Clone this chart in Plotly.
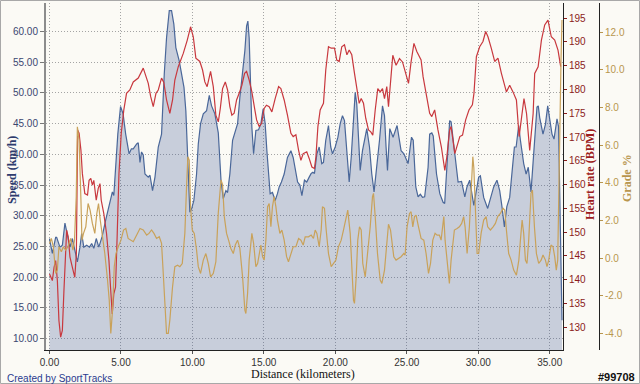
import plotly.graph_objects as go

# ---------------- data ----------------
speed_dist = [0.0, 0.2, 0.43, 0.5, 0.73, 0.9, 1.08, 1.25, 1.43, 1.6, 1.77, 1.95, 2.13, 2.25, 2.4, 2.6, 2.8, 2.95,
              3.1, 3.27, 3.45, 3.68, 3.93, 4.16, 4.4, 4.5, 4.6, 4.78, 4.97, 5.15, 5.33, 5.57, 5.73, 5.86, 6.1, 6.21,
              6.33, 6.44, 6.56, 6.68, 6.91, 7.03, 7.21, 7.38, 7.61, 7.84, 8.03, 8.19, 8.38, 8.54, 8.7, 8.84, 9.08,
              9.24, 9.41, 9.54, 9.64, 9.73, 9.82, 9.94, 10.1, 10.29, 10.41, 10.57, 10.76, 10.99, 11.18, 11.34, 11.57,
              11.81, 12.0, 12.16, 12.34, 12.46, 12.62, 12.81, 13.0, 13.16, 13.32, 13.51, 13.67, 13.79, 13.88, 13.97,
              14.07, 14.16, 14.28, 14.44, 14.63, 14.79, 14.95, 15.09, 15.21, 15.32, 15.44, 15.6, 15.79, 15.95, 16.07,
              16.23, 16.42, 16.65, 16.89, 17.05, 17.24, 17.36, 17.52, 17.66, 17.84, 18.0, 18.17, 18.31, 18.43, 18.54,
              18.71, 18.87, 19.05, 19.17, 19.33, 19.52, 19.68, 19.8, 19.99, 20.18, 20.34, 20.5, 20.64, 20.81, 20.97,
              21.11, 21.2, 21.39, 21.5, 21.62, 21.74, 21.9, 22.09, 22.2, 22.39, 22.55, 22.71, 22.9, 23.09, 23.3,
              23.44, 23.55, 23.65, 23.81, 24.04, 24.32, 24.6, 24.8, 25.09, 25.33, 25.45, 25.63, 25.79, 25.95, 26.1,
              26.25, 26.49, 26.6, 26.75, 26.85, 27.08, 27.31, 27.54, 27.65, 27.77, 28.0, 28.1, 28.29, 28.47, 28.59,
              28.83, 29.06, 29.21, 29.4, 29.69, 30.03, 30.15, 30.38, 30.66, 30.85, 31.08, 31.31, 31.5, 31.66, 31.83,
              32.0, 32.2, 32.4, 32.53, 32.65, 32.83, 32.95, 33.18, 33.35, 33.5, 33.69, 33.88, 34.11, 34.2, 34.3,
              34.53, 34.7, 34.86, 35.0, 35.16, 35.3, 35.42, 35.51, 35.62, 35.78, 35.86]
speed_kmh = [26.3, 23.9, 26.5, 26.5, 24.9, 25.2, 28.8, 27.1, 24.9, 26.3, 24.7, 22.5, 24.9, 27.1, 24.9, 25.2, 24.9, 25.5,
             24.7, 26.3, 24.9, 26.6, 29.3, 31.4, 33.9, 33.3, 36.8, 43.3, 47.8, 46.6, 43.3, 40.1, 40.9, 40.9, 41.7, 41.9,
             38.7, 40.4, 39.9, 36.8, 36.3, 36.6, 34.1, 36.3, 41.2, 43.3, 53.1, 59.0, 63.4, 63.4, 61.2, 57.4, 55.2,
             53.1, 50.9, 47.1, 40.1, 33.6, 30.6, 31.1, 32.5, 36.8, 41.7, 45.0, 46.6, 47.1, 49.6, 47.9, 46.6,
             43.5, 35.8, 32.8, 34.1, 33.8, 36.8, 42.3, 43.9, 45.0, 49.3, 53.1, 56.9, 60.9, 61.7, 59.0,
             50.9, 44.4, 40.1, 43.9, 44.0, 45.0, 47.4, 45.0, 40.6, 36.3, 33.6, 33.8, 32.5, 33.6, 34.7,
             35.5, 36.8, 39.5, 40.6, 39.5, 37.4, 35.5, 35.0, 33.3, 35.8, 35.5, 36.3, 36.9, 37.1, 36.9,
             40.1, 41.2, 38.5, 38.7, 42.3, 44.7, 41.2, 40.1, 41.2, 42.8, 45.0, 46.3, 45.5, 40.6, 35.5,
             39.5, 43.3, 50.1, 48.2, 42.8, 37.4, 40.6, 43.3, 44.2, 41.2, 36.8, 33.9, 37.9, 42.3, 47.9,
             46.3, 41.2, 37.4, 44.2, 42.8, 44.7, 40.6, 40.1, 38.5, 42.8, 42.3, 34.7, 33.1, 33.5, 33.0,
             33.1, 37.9, 43.3, 43.5, 43.0, 36.8, 33.6, 32.2, 32.0, 36.8, 45.5, 45.3, 41.2, 37.4, 35.5,
             35.6, 33.1, 34.7, 35.8, 31.7, 36.3, 36.5, 33.0, 31.2, 33.0, 34.7, 35.8, 34.1, 31.5, 28.2,
             31.5, 33.0, 38.0, 41.2, 41.2, 44.7, 42.3, 38.5, 36.8, 37.9, 33.9, 40.1, 47.7, 47.9, 46.0,
             43.3, 44.9, 47.9, 46.0, 43.3, 42.5, 44.0, 45.8, 44.5, 20.5, 13.0]

hr_dist = [0.0, 0.2, 0.32, 0.43, 0.55, 0.66, 0.78, 0.9, 1.01, 1.13, 1.2, 1.31, 1.43, 1.6, 1.77, 1.88, 1.97, 2.07, 2.2,
           2.3, 2.47, 2.66, 2.77, 2.89, 3.0, 3.1, 3.27, 3.41, 3.53, 3.62, 3.8, 3.99, 4.16, 4.27, 4.39, 4.5, 4.62,
           4.74, 4.86, 5.02, 5.2, 5.39, 5.62, 5.86, 6.21, 6.56, 6.75, 6.91, 7.08, 7.26, 7.45, 7.61, 7.84, 8.0, 8.19,
           8.42, 8.61, 8.77, 9.01, 9.36, 9.64, 9.87, 10.06, 10.24, 10.52, 10.71, 10.87, 11.03, 11.27, 11.46, 11.64,
           11.81, 11.95, 12.11, 12.3, 12.46, 12.62, 12.76, 12.92, 13.09, 13.27, 13.46, 13.65, 13.79, 13.97, 14.16,
           14.33, 14.49, 14.67, 14.84, 15.02, 15.18, 15.37, 15.56, 15.79, 16.03, 16.19, 16.42, 16.65, 16.89, 17.05,
           17.24, 17.43, 17.59, 17.75, 18.0, 18.17, 18.36, 18.54, 18.64, 18.78, 18.94, 19.17, 19.33, 19.52, 19.71,
           19.94, 20.1, 20.27, 20.45, 20.64, 20.81, 20.97, 21.15, 21.34, 21.5, 21.67, 21.81, 21.97, 22.13, 22.32,
           22.48, 22.62, 22.79, 22.97, 23.14, 23.3, 23.44, 23.6, 23.72, 23.85, 24.02, 24.25, 24.49, 24.7, 24.95,
           25.12, 25.3, 25.5, 25.7, 26.0, 26.14, 26.37, 26.6, 26.75, 26.95, 27.18, 27.42, 27.66, 27.8, 28.0, 28.1,
           28.36, 28.5, 28.71, 28.9, 29.12, 29.35, 29.59, 29.7, 29.87, 30.1, 30.33, 30.52, 30.68, 30.91, 31.15,
           31.38, 31.62, 31.97, 32.2, 32.43, 32.67, 32.86, 33.02, 33.2, 33.38, 33.6, 33.84, 33.95, 34.19, 34.42,
           34.65, 34.88, 35.11, 35.35, 35.58, 35.77]
hr_bpm = [141.2, 139.8, 142.6, 144.0, 139.8, 131.4, 127.9, 129.3, 137.7, 148.3, 150.4, 149.0, 144.8, 142.6, 140.5,
          145.5, 171.5, 170.8, 167.2, 162.3, 158.1, 157.8, 160.9, 161.3, 159.9, 160.9, 156.7, 159.2, 160.2, 156.7,
          153.9, 149.7, 144.0, 138.4, 132.8, 137.0, 138.4, 149.7, 162.3, 170.8, 175.7, 179.2, 179.9, 181.6, 182.4,
          184.5, 182.7, 181.3, 178.5, 176.4, 179.2, 179.9, 182.4, 181.5, 177.8, 175.0, 177.8, 182.0, 184.8, 187.6,
          190.4, 193.2, 191.1, 186.6, 185.9, 184.1, 181.6, 180.6, 183.8, 180.6, 174.6, 173.2, 176.0, 180.2, 181.6,
          179.9, 176.4, 174.6, 175.0, 177.8, 179.2, 180.9, 183.4, 183.8, 182.0, 179.5, 176.4, 173.6, 172.2, 172.9,
          176.0, 176.7, 176.4, 175.3, 178.1, 180.6, 180.2, 177.8, 174.6, 170.8, 170.1, 170.5, 167.2, 165.1, 166.5,
          166.9, 165.5, 163.7, 163.4, 165.8, 172.2, 175.7, 177.1, 184.1, 189.0, 188.7, 188.7, 186.2, 185.9, 189.0,
          189.4, 187.3, 188.3, 187.3, 183.4, 180.6, 177.1, 178.1, 177.1, 173.9, 171.5, 171.1, 170.4, 175.7, 180.2,
          179.5, 180.2, 178.1, 180.6, 176.4, 181.0, 187.2, 185.1, 186.5, 185.8, 183.4, 181.3, 185.8, 189.7, 188.0,
          186.2, 182.7, 178.5, 175.0, 174.3, 175.7, 171.5, 167.9, 163.0, 165.8, 171.5, 172.2, 166.5, 168.0, 170.1,
          170.4, 173.6, 175.7, 176.8, 179.2, 186.9, 189.0, 190.1, 192.2, 191.1, 188.7, 185.9, 186.6, 183.4, 179.5,
          180.9, 179.5, 177.8, 170.1, 173.6, 178.1, 174.9, 167.2, 174.9, 183.4, 184.8, 190.4, 193.6, 194.6, 191.1,
          190.4, 188.3, 184.8]

grade_dist = [0.0, 0.13, 0.27, 0.43, 0.55, 0.66, 0.83, 0.97, 1.13, 1.29, 1.48, 1.64, 1.75, 1.87, 1.95, 2.07, 2.2,
              2.27, 2.38, 2.54, 2.7, 2.84, 3.0, 3.17, 3.31, 3.43, 3.55, 3.71, 3.87, 4.06, 4.18, 4.29, 4.41, 4.53,
              4.65, 4.81, 5.0, 5.18, 5.34, 5.5, 5.73, 5.86, 6.1, 6.33, 6.56, 6.8, 6.96, 7.14, 7.31, 7.49, 7.68,
              7.84, 7.96, 8.08, 8.19, 8.31, 8.42, 8.61, 8.77, 8.96, 9.12, 9.29, 9.47, 9.59, 9.68, 9.78, 9.87, 9.99,
              10.13, 10.29, 10.41, 10.57, 10.76, 10.94, 11.11, 11.27, 11.46, 11.64, 11.81, 12.0, 12.11, 12.23,
              12.39, 12.53, 12.69, 12.86, 13.0, 13.16, 13.32, 13.51, 13.67, 13.74, 13.86, 13.97, 14.16, 14.28,
              14.44, 14.56, 14.67, 14.79, 14.91, 15.02, 15.14, 15.26, 15.37, 15.49, 15.6, 15.72, 15.84, 15.95,
              16.12, 16.26, 16.42, 16.59, 16.72, 16.89, 17.05, 17.24, 17.43, 17.59, 17.75, 17.89, 18.12, 18.31,
              18.47, 18.59, 18.71, 18.87, 19.01, 19.1, 19.24, 19.36, 19.52, 19.71, 19.87, 20.04, 20.22, 20.41,
              20.57, 20.73, 20.87, 21.04, 21.15, 21.27, 21.34, 21.46, 21.57, 21.69, 21.81, 21.92, 22.09, 22.27,
              22.44, 22.6, 22.67, 22.79, 22.95, 23.14, 23.26, 23.44, 23.6, 23.72, 23.86, 23.95, 24.09, 24.25,
              24.42, 24.6, 24.79, 24.88, 25.02, 25.19, 25.3, 25.42, 25.54, 25.65, 25.82, 26.0, 26.19, 26.35,
              26.52, 26.66, 26.82, 26.98, 27.12, 27.28, 27.4, 27.59, 27.68, 27.82, 27.98, 28.1, 28.22, 28.33,
              28.52, 28.68, 28.84, 28.98, 29.08, 29.22, 29.38, 29.5, 29.62, 29.69, 29.8, 29.92, 30.03, 30.2,
              30.38, 30.55, 30.66, 30.85, 31.04, 31.2, 31.36, 31.55, 31.74, 31.85, 31.97, 32.13, 32.3, 32.48,
              32.67, 32.84, 32.95, 33.07, 33.18, 33.3, 33.41, 33.53, 33.69, 33.79, 33.93, 34.07, 34.23, 34.4,
              34.53, 34.7, 34.81, 34.93, 35.09, 35.23, 35.35, 35.46, 35.56, 35.65, 35.7, 35.79, 35.86]
grade_pct = [0.78, 1.04, 0.6, -0.82, -0.64, 0.6, 0.33, 0.6, 0.42, 0.6, 1.04, 0.42, 0.95, 3.26, 6.98, 6.27, 3.08,
             0.95, 1.31, 1.66, 2.9, 2.55, 1.84, 1.31, 2.37, 2.9, 2.02, 1.13, 0.24, -1.17, -2.24, -4.01, -2.77, -0.46,
             0.24, 0.6, 0.95, 1.49, 1.57, 1.04, 0.95, 0.87, 1.22, 1.57, 1.49, 1.22, 1.31, 1.49, 1.31, 1.04, 1.13,
             0.78, -0.82, -2.95, -4.01, -4.01, -3.3, -1.53, -0.46, -0.38, -0.46, -0.29, 1.31, 3.79, 5.39, 5.2, 2.73, 1.49,
             1.31, 0.42, -0.46, -0.82, -0.11, 0.24, -0.29, -1.0, -0.82, -0.2, 2.4, 4.15, 3.9, 2.2,
             1.31, 0.95, 0.51, 0.24, 0.69, 0.95, 0.51, -1.0, -2.77, -2.95, -1.88, -0.11, 1.31, 0.78,
             -0.46, -0.29, 0.24, 0.69, 0.07, -0.11, 0.95, 2.73, 2.9, 1.66, 2.73, 3.26, 2.73, 2.02,
             1.31, 1.49, 0.95, 0.07, -0.2, 0.24, 0.6, 0.6, 1.04, 0.95, 0.69, 1.13, 1.13, 1.22,
             1.04, 1.49, 1.31, 0.6, 1.49, 2.73, 2.64, 1.49, 0.24, -0.46, -0.29, -0.11, 0.6, 0.95,
             1.49, 2.02, 2.55, 1.31, -0.46, -2.24, -2.41, -1.0, 0.95, 1.66, 1.49, -0.29, -1.0, 0.24,
             1.66, 3.26, 3.44, 2.2, 0.24, -1.17, -1.35, -0.64, 0.95, 1.8, 1.49, 0.78, 0.07, -0.11,
             -0.02, 0.07, 0.24, 0.15, 1.66, 2.37, 2.46, 1.66, 2.2, 2.28, 1.66, 1.04, 0.95, 0.24,
             -0.82, -0.29, 0.95, 1.31, 1.22, 1.22, 0.95, 2.2, 0.95, -0.11, -1.35, -0.11, 0.95, 1.49,
             1.57, 1.66, 1.84, 2.2, 1.66, 0.24, 1.66, 3.79, 5.39, 4.8, 2.73, 0.24, 0.24, 1.31,
             2.02, 2.2, 1.66, 1.49, 1.66, 1.84, 2.2, 2.37, 2.64, 2.55, 1.49, 0.24, -0.11, -0.64,
             -0.91, -0.11, 0.95, 2.02, 1.31, -0.11, -0.29, 0.95, 3.44, 3.61, 1.66, 0.24, -0.29, -0.11,
             0.16, -0.11, -0.46, -0.11, 0.69, 0.6, 0.07, -0.64, -0.11, 3.08, 6.27, 10.5, 12.66]

x_ticks = [0, 5, 10, 15, 20, 25, 30, 35]
speed_ticks = [10, 15, 20, 25, 30, 35, 40, 45, 50, 55, 60]
hr_ticks = [130, 135, 140, 145, 150, 155, 160, 165, 170, 175, 180, 185, 190, 195]
grade_ticks = [-4, -2, 0, 2, 4, 6, 8, 10, 12]

# ---------------- figure ----------------
W, H = 640, 384
ML, MR, MT, MB = 46, 10, 3, 34
PW, PH = W - ML - MR, H - MT - MB


def px(x):
    return (x - ML) / PW


def py(y):
    return (H - MB - y) / PH


BG = "#FBFAF5"
TICKFONT = "Liberation Sans, Arial, sans-serif"
SERIF = "Liberation Serif, Times New Roman, serif"
GRID = dict(showgrid=True, gridcolor="#A4A4A4", griddash="1px,2px", gridwidth=1)

fig = go.Figure()
fig.add_trace(go.Scatter(
    x=speed_dist, y=speed_kmh, mode="lines", fill="tozeroy",
    fillcolor="rgba(61,86,150,0.265)", line=dict(color="#4A6799", width=1.2),
    yaxis="y", hoverinfo="skip", showlegend=False))
fig.add_trace(go.Scatter(
    x=grade_dist, y=grade_pct, mode="lines",
    line=dict(color="#C9A25A", width=1.2), yaxis="y3", hoverinfo="skip", showlegend=False))
fig.add_trace(go.Scatter(
    x=hr_dist, y=hr_bpm, mode="lines",
    line=dict(color="#C8383E", width=1.2), yaxis="y2", hoverinfo="skip", showlegend=False))

fig.update_layout(
    width=W, height=H,
    margin=dict(l=ML, r=MR, t=MT, b=MB, pad=0, autoexpand=False),
    paper_bgcolor=BG, plot_bgcolor=BG,
    showlegend=False,
    xaxis=dict(
        domain=[0, (563 - ML) / PW],
        range=[-0.245, 35.93],
        tickvals=x_ticks, ticktext=["%.2f" % v for v in x_ticks],
        zeroline=False, showline=True, linecolor="#222222", linewidth=1,
        ticks="outside", ticklen=3, tickcolor="#555555",
        tickfont=dict(family=TICKFONT, size=10, color="#333333"),
        **GRID,
    ),
    yaxis=dict(
        range=[8.15, 64.65],
        tickvals=speed_ticks, ticktext=["%.2f" % v for v in speed_ticks],
        zeroline=False, showline=True, linecolor="#8C8C8C", linewidth=2,
        ticks="outside", ticklen=4, tickcolor="#777777",
        tickfont=dict(family=TICKFONT, size=10, color="#3A4670"),
        **GRID,
    ),
    yaxis2=dict(
        overlaying="y", side="right", anchor="x",
        range=[125.2, 198.2],
        tickvals=hr_ticks, ticktext=[str(v) for v in hr_ticks],
        showgrid=False, zeroline=False, showline=True, linecolor="#222222", linewidth=1,
        ticks="outside", ticklen=3, tickcolor="#8B1A1A",
        tickfont=dict(family=TICKFONT, size=10, color="#8B1A1A"),
    ),
    yaxis3=dict(
        overlaying="y", side="right", anchor="free", position=(599 - ML) / PW,
        range=[-4.89, 13.56],
        tickvals=grade_ticks, ticktext=["%.1f" % v for v in grade_ticks],
        showgrid=False, zeroline=False, showline=True, linecolor="#222222", linewidth=1,
        ticks="outside", ticklen=3, tickcolor="#B8964E",
        tickfont=dict(family=TICKFONT, size=10, color="#B8964E"),
    ),
)

annotations = [
    dict(text="<b>Speed (km/h)</b>", x=px(12), y=py(170), textangle=-90,
         font=dict(family=SERIF, size=12, color="#2E3C6E")),
    dict(text="<b>Heart rate (BPM)</b>", x=px(590), y=py(175), textangle=-90,
         font=dict(family=SERIF, size=12, color="#9B1C1C")),
    dict(text="<b>Grade %</b>", x=px(627), y=py(178), textangle=-90,
         font=dict(family=SERIF, size=12, color="#B8964E")),
    dict(text="Distance (kilometers)", x=px(303), y=py(374),
         font=dict(family=SERIF, size=12, color="#111111")),
    dict(text="Created by SportTracks", x=px(5), y=py(378), xanchor="left",
         font=dict(family=TICKFONT, size=10, color="#2A3A8F")),
    dict(text="<b>#99708</b>", x=px(637), y=py(377), xanchor="right",
         font=dict(family=TICKFONT, size=11, color="#111111")),
]
for a in annotations:
    a.setdefault("xanchor", "center")
    a.update(xref="paper", yref="paper", yanchor="middle", showarrow=False)
fig.update_layout(annotations=annotations)

# outer border of the picture
fig.add_shape(type="rect", xref="paper", yref="paper",
              x0=px(0.5), x1=px(W - 0.5), y0=py(H - 0.5), y1=py(0.5),
              line=dict(color="#A8A8A8", width=1), layer="above")

fig.write_html("out.html",
               config={"displayModeBar": False, "staticPlot": True},
               post_script="document.body.style.margin='0px';document.body.style.padding='0px';")
